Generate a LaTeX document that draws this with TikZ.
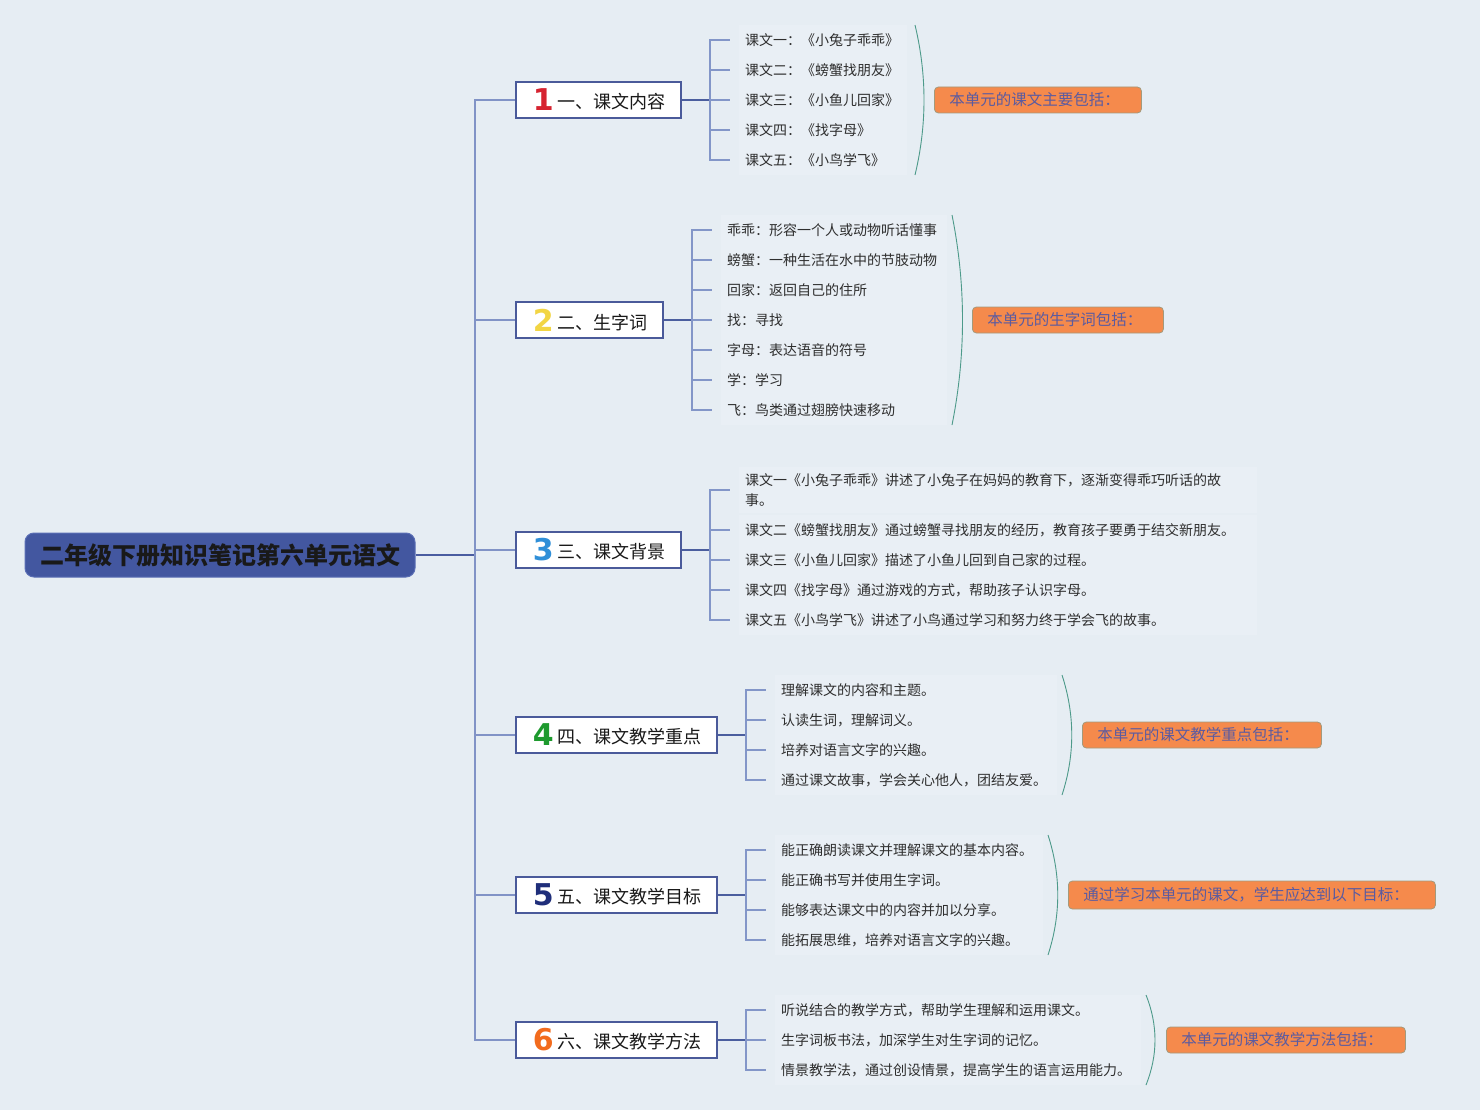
\documentclass[tikz,border=0pt]{standalone}
\usepackage{fontspec}
\setmainfont{Noto Sans CJK SC}
\newfontfamily\numfont{DejaVu Sans}
\definecolor{bg}{HTML}{E6EDF3}
\definecolor{leafbg}{HTML}{E9EFF5}
\definecolor{leaftext}{HTML}{2E2E2E}
\definecolor{rootfill}{HTML}{4357A0}
\definecolor{rootdraw}{HTML}{5B6FB5}
\definecolor{rootline}{HTML}{4A5DA0}
\definecolor{spinecol}{HTML}{8193C6}
\definecolor{boxborder}{HTML}{4A5A9A}
\definecolor{boxlinecol}{HTML}{4B5E9E}
\definecolor{tickcol}{HTML}{8396C8}
\definecolor{arccol}{HTML}{4D9A8A}
\definecolor{sumfill}{HTML}{F58A4C}
\definecolor{sumdraw}{HTML}{A39A7C}
\definecolor{sumtext}{HTML}{5B5BA0}
\definecolor{n1}{HTML}{D62330}
\definecolor{n2}{HTML}{F2D544}
\definecolor{n3}{HTML}{2F8FD8}
\definecolor{n4}{HTML}{1E9A2E}
\definecolor{n5}{HTML}{1F2E7A}
\definecolor{n6}{HTML}{F26B1D}
\newcommand\bnum[2]{\makebox[24pt][c]{\numfont\bfseries\fontsize{30}{30}\selectfont\color{#1}#2}\hspace{2pt}}
\newcommand\blab[1]{\raisebox{2pt}{#1}}
\tikzset{
  rootbox/.style={fill=rootfill, draw=rootdraw, line width=1pt, rounded corners=9pt,
    minimum width=390pt, minimum height=44pt, inner sep=0pt,
    font=\bfseries\fontsize{24}{28}\selectfont, text=black!90},
  branchbox/.style={draw=boxborder, line width=1.6pt, fill=white, anchor=west,
    minimum height=36pt, inner xsep=15.5pt, inner ysep=0pt, align=left,
    font=\fontsize{18}{20}\selectfont, text=black!90},
  leafnode/.style={anchor=west, fill=leafbg, inner xsep=6pt, inner ysep=0pt,
    minimum height=30pt, align=left, font=\fontsize{14}{20}\selectfont, text=leaftext},
  sumbox/.style={draw=sumdraw, line width=0.8pt, fill=sumfill, rounded corners=4pt,
    anchor=west, inner xsep=15pt, inner ysep=0pt, minimum height=26pt, align=left,
    text=sumtext, font=\fontsize{15.5}{18}\selectfont},
  rootconn/.style={draw=rootline, line width=1.6pt},
  spineconn/.style={draw=spinecol, line width=1.4pt},
  boxconn/.style={draw=boxlinecol, line width=1.6pt},
  tickconn/.style={draw=tickcol, line width=1.4pt},
  arcline/.style={draw=arccol, line width=0.9pt}
}
\begin{document}
\begin{tikzpicture}[x=1pt,y=-1pt]
\useasboundingbox (0,0) rectangle (1480,1110);
\fill[bg] (0,0) rectangle (1480,1110);

% root and spine
\node[rootbox] (root) at (220,555) {二年级下册知识笔记第六单元语文};
\coordinate (sp) at (475,555);

% branch boxes
\node[branchbox, text width=134pt] (k1) at (515,100) {\bnum{n1}{1}\blab{一、课文内容}};
\node[branchbox, text width=116pt] (k2) at (515,320) {\bnum{n2}{2}\blab{二、生字词}};
\node[branchbox, text width=134pt] (k3) at (515,550) {\bnum{n3}{3}\blab{三、课文背景}};
\node[branchbox, text width=170pt] (k4) at (515,735) {\bnum{n4}{4}\blab{四、课文教学重点}};
\node[branchbox, text width=170pt] (k5) at (515,895) {\bnum{n5}{5}\blab{五、课文教学目标}};
\node[branchbox, text width=170pt] (k6) at (515,1040) {\bnum{n6}{6}\blab{六、课文教学方法}};

\draw[rootconn] (root.east) -- (sp);
\foreach \k in {k1,k2,k3,k4,k5,k6} \draw[spineconn] (sp) |- (\k.west);

% group 1
\coordinate (b1) at (710,100);
\node[leafnode, text width=156pt] (l11) at (739,40) {课文一：《小兔子乖乖》};
\node[leafnode, text width=156pt] (l12) at (739,70) {课文二：《螃蟹找朋友》};
\node[leafnode, text width=156pt] (l13) at (739,100) {课文三：《小鱼儿回家》};
\node[leafnode, text width=156pt] (l14) at (739,130) {课文四：《找字母》};
\node[leafnode, text width=156pt] (l15) at (739,160) {课文五：《小鸟学飞》};
\draw[boxconn] (k1.east) -- (b1);
\foreach \n in {l11,l12,l13,l14,l15} \draw[tickconn] (b1) |- ([xshift=-9pt]\n.west);

% group 2
\coordinate (b2) at (692,320);
\node[leafnode, text width=214pt] (l21) at (721,230) {乖乖：形容一个人或动物听话懂事};
\node[leafnode, text width=214pt] (l22) at (721,260) {螃蟹：一种生活在水中的节肢动物};
\node[leafnode, text width=214pt] (l23) at (721,290) {回家：返回自己的住所};
\node[leafnode, text width=214pt] (l24) at (721,320) {找：寻找};
\node[leafnode, text width=214pt] (l25) at (721,350) {字母：表达语音的符号};
\node[leafnode, text width=214pt] (l26) at (721,380) {学：学习};
\node[leafnode, text width=214pt] (l27) at (721,410) {飞：鸟类通过翅膀快速移动};
\draw[boxconn] (k2.east) -- (b2);
\foreach \n in {l21,l22,l23,l24,l25,l26,l27} \draw[tickconn] (b2) |- ([xshift=-9pt]\n.west);

% group 3
\coordinate (b3) at (710,550);
\node[leafnode, text width=506pt, minimum height=46pt] (l31) at (739,490) {课文一《小兔子乖乖》讲述了小兔子在妈妈的教育下，逐渐变得乖巧听话的故\\事。};
\node[leafnode, text width=506pt] (l32) at (739,530) {课文二《螃蟹找朋友》通过螃蟹寻找朋友的经历，教育孩子要勇于结交新朋友。};
\node[leafnode, text width=506pt] (l33) at (739,560) {课文三《小鱼儿回家》描述了小鱼儿回到自己家的过程。};
\node[leafnode, text width=506pt] (l34) at (739,590) {课文四《找字母》通过游戏的方式，帮助孩子认识字母。};
\node[leafnode, text width=506pt] (l35) at (739,620) {课文五《小鸟学飞》讲述了小鸟通过学习和努力终于学会飞的故事。};
\draw[boxconn] (k3.east) -- (b3);
\foreach \n in {l31,l32,l33,l34,l35} \draw[tickconn] (b3) |- ([xshift=-9pt]\n.west);

% group 4
\coordinate (b4) at (746,735);
\node[leafnode, text width=270pt] (l41) at (775,690) {理解课文的内容和主题。};
\node[leafnode, text width=270pt] (l42) at (775,720) {认读生词，理解词义。};
\node[leafnode, text width=270pt] (l43) at (775,750) {培养对语言文字的兴趣。};
\node[leafnode, text width=270pt] (l44) at (775,780) {通过课文故事，学会关心他人，团结友爱。};
\draw[boxconn] (k4.east) -- (b4);
\foreach \n in {l41,l42,l43,l44} \draw[tickconn] (b4) |- ([xshift=-9pt]\n.west);

% group 5
\coordinate (b5) at (746,895);
\node[leafnode, text width=256pt] (l51) at (775,850) {能正确朗读课文并理解课文的基本内容。};
\node[leafnode, text width=256pt] (l52) at (775,880) {能正确书写并使用生字词。};
\node[leafnode, text width=256pt] (l53) at (775,910) {能够表达课文中的内容并加以分享。};
\node[leafnode, text width=256pt] (l54) at (775,940) {能拓展思维，培养对语言文字的兴趣。};
\draw[boxconn] (k5.east) -- (b5);
\foreach \n in {l51,l52,l53,l54} \draw[tickconn] (b5) |- ([xshift=-9pt]\n.west);

% group 6
\coordinate (b6) at (746,1040);
\node[leafnode, text width=354pt] (l61) at (775,1010) {听说结合的教学方式，帮助学生理解和运用课文。};
\node[leafnode, text width=354pt] (l62) at (775,1040) {生字词板书法，加深学生对生字词的记忆。};
\node[leafnode, text width=354pt] (l63) at (775,1070) {情景教学法，通过创设情景，提高学生的语言运用能力。};
\draw[boxconn] (k6.east) -- (b6);
\foreach \n in {l61,l62,l63} \draw[tickconn] (b6) |- ([xshift=-9pt]\n.west);

% summary arcs
\draw[arcline] (915,25) .. controls (927,75) and (927,125) .. (915,175);
\draw[arcline] (952,215) .. controls (966,285) and (966,355) .. (952,425);
\draw[arcline] (1062,675) .. controls (1075,715) and (1075,755) .. (1062,795);
\draw[arcline] (1048,835) .. controls (1061,875) and (1061,915) .. (1048,955);
\draw[arcline] (1146,995) .. controls (1158,1025) and (1158,1055) .. (1146,1085);

% summary boxes
\node[sumbox, text width=177pt] (s1) at (934,100) {本单元的课文主要包括：};
\node[sumbox, text width=161pt] (s2) at (972,320) {本单元的生字词包括：};
\node[sumbox, text width=209pt] (s4) at (1082,735) {本单元的课文教学重点包括：};
\node[sumbox, text width=337pt, minimum height=28pt] (s5) at (1068,895) {通过学习本单元的课文，学生应达到以下目标：};
\node[sumbox, text width=209pt] (s6) at (1166,1040) {本单元的课文教学方法包括：};
\end{tikzpicture}
\end{document}
